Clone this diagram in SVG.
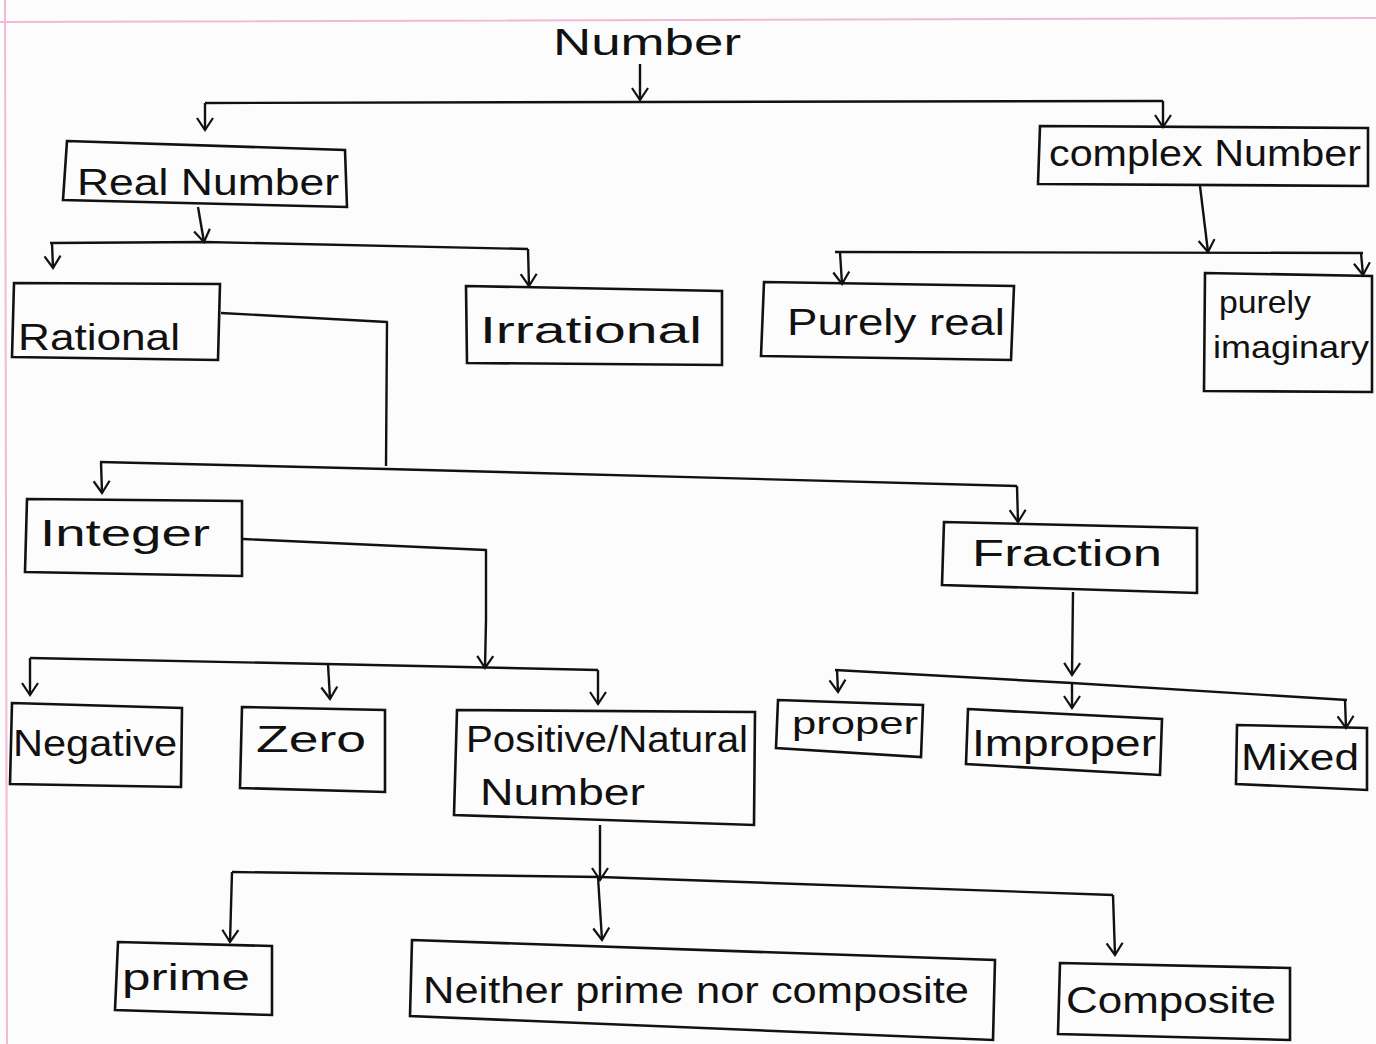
<svg xmlns="http://www.w3.org/2000/svg" width="1376" height="1044" viewBox="0 0 1376 1044">
<style>
.box{fill:none;stroke:#111;stroke-width:2.6}
.t{font-family:"Liberation Sans","DejaVu Sans",sans-serif;fill:#111;font-size:36px}
.s{font-size:32px}
.c{fill:none;stroke:#111;stroke-width:2.4;stroke-linejoin:round}
.a{fill:none;stroke:#111;stroke-width:2.4;marker-end:url(#ah)}
.paper{stroke:#f2b8d8;stroke-width:2;fill:none}
</style>
<defs>
<marker id="ah" viewBox="0 0 20 20" refX="18" refY="10" markerWidth="20" markerHeight="20" markerUnits="userSpaceOnUse" orient="auto">
<path d="M6,2 L18,10 L6,18" fill="none" stroke="#111" stroke-width="2.2"/>
</marker>
</defs>
<rect width="1376" height="1044" fill="#fdfcfc"/>
<path class="paper" d="M0,22 L1376,18 M5,0 L7,1044"/>

<g id="connectors">
<path class="a" d="M640,64 L640,100"/>
<path class="c" d="M205,103 L640,102 L1163,101"/>
<path class="a" d="M205,103 L205,130"/>
<path class="a" d="M1163,101 L1163,127"/>

<path class="a" d="M198,207 L204,242"/>
<path class="c" d="M50,243 L205,242 L528,249"/>
<path class="a" d="M52,243 L53,268"/>
<path class="a" d="M528,249 L529,286"/>

<path class="a" d="M1200,186 L1208,252"/>
<path class="c" d="M835,252 L1363,253"/>
<path class="a" d="M840,252 L842,284"/>
<path class="a" d="M1361,253 L1363,275"/>

<path class="c" d="M221,313 L387,322 L386,466"/>
<path class="c" d="M100,462 L387,469 L1017,486"/>
<path class="a" d="M101,462 L102,493"/>
<path class="a" d="M1017,486 L1018,522"/>

<path class="c" d="M243,539 L486,550 L486,620"/>
<path class="a" d="M486,620 L485,668"/>
<path class="c" d="M30,658 L326,664 L598,670"/>
<path class="a" d="M30,658 L30,695"/>
<path class="a" d="M328,664 L330,699"/>
<path class="a" d="M598,670 L598,704"/>

<path class="a" d="M1073,592 L1072,675"/>
<path class="c" d="M835,670 L1072,683 L1347,700"/>
<path class="a" d="M837,670 L838,692"/>
<path class="a" d="M1072,683 L1072,708"/>
<path class="a" d="M1345,700 L1346,728"/>

<path class="a" d="M600,825 L600,880"/>
<path class="c" d="M232,872 L600,877 L1113,895"/>
<path class="a" d="M232,872 L230,942"/>
<path class="a" d="M598,877 L602,940"/>
<path class="a" d="M1113,895 L1115,955"/>
</g>

<g id="number"><text class="t" x="553" y="55" textLength="188" lengthAdjust="spacingAndGlyphs">Number</text></g>

<g id="real-number">
<path class="box" d="M67,141 L345,150 L347,207 L63,200 Z"/>
<text class="t" x="77" y="195" textLength="262" lengthAdjust="spacingAndGlyphs">Real Number</text>
</g>

<g id="complex-number">
<path class="box" d="M1040,126 L1368,128 L1368,186 L1038,184 Z"/>
<text class="t" x="1049" y="166" textLength="312" lengthAdjust="spacingAndGlyphs">complex Number</text>
</g>

<g id="rational">
<path class="box" d="M14,283 L220,284 L218,360 L12,357 Z"/>
<text class="t" x="18" y="350" textLength="162" lengthAdjust="spacingAndGlyphs">Rational</text>
</g>

<g id="irrational">
<path class="box" d="M466,286 L722,291 L722,365 L467,363 Z"/>
<text class="t" x="480" y="343" textLength="222" lengthAdjust="spacingAndGlyphs">Irrational</text>
</g>

<g id="purely-real">
<path class="box" d="M764,282 L1014,286 L1011,360 L761,356 Z"/>
<text class="t" x="787" y="335" textLength="218" lengthAdjust="spacingAndGlyphs">Purely real</text>
</g>

<g id="purely-imaginary">
<path class="box" d="M1205,273 L1372,276 L1372,392 L1204,391 Z"/>
<text class="t s" x="1219" y="313" textLength="92" lengthAdjust="spacingAndGlyphs">purely</text>
<text class="t s" x="1213" y="358" textLength="156" lengthAdjust="spacingAndGlyphs">imaginary</text>
</g>

<g id="integer">
<path class="box" d="M27,499 L242,501 L242,576 L25,572 Z"/>
<text class="t" x="40" y="546" textLength="170" lengthAdjust="spacingAndGlyphs">Integer</text>
</g>

<g id="fraction">
<path class="box" d="M944,522 L1197,528 L1197,593 L942,585 Z"/>
<text class="t" x="972" y="566" textLength="190" lengthAdjust="spacingAndGlyphs">Fraction</text>
</g>

<g id="negative">
<path class="box" d="M12,703 L182,708 L181,787 L10,784 Z"/>
<text class="t" x="13" y="756" textLength="164" lengthAdjust="spacingAndGlyphs">Negative</text>
</g>

<g id="zero">
<path class="box" d="M242,707 L385,710 L385,792 L240,788 Z"/>
<text class="t" x="256" y="752" textLength="110" lengthAdjust="spacingAndGlyphs">Zero</text>
</g>

<g id="positive-natural">
<path class="box" d="M457,710 L755,712 L754,825 L454,815 Z"/>
<text class="t" x="466" y="752" textLength="282" lengthAdjust="spacingAndGlyphs">Positive/Natural</text>
<text class="t" x="480" y="805" textLength="165" lengthAdjust="spacingAndGlyphs">Number</text>
</g>

<g id="proper">
<path class="box" d="M778,700 L923,705 L921,757 L776,748 Z"/>
<text class="t s" x="792" y="734" textLength="126" lengthAdjust="spacingAndGlyphs">proper</text>
</g>

<g id="improper">
<path class="box" d="M968,709 L1162,719 L1160,775 L966,764 Z"/>
<text class="t" x="972" y="756" textLength="184" lengthAdjust="spacingAndGlyphs">Improper</text>
</g>

<g id="mixed">
<path class="box" d="M1237,725 L1367,728 L1367,790 L1236,784 Z"/>
<text class="t" x="1241" y="770" textLength="118" lengthAdjust="spacingAndGlyphs">Mixed</text>
</g>

<g id="prime">
<path class="box" d="M118,942 L272,946 L272,1015 L115,1010 Z"/>
<text class="t" x="122" y="990" textLength="128" lengthAdjust="spacingAndGlyphs">prime</text>
</g>

<g id="neither">
<path class="box" d="M412,940 L995,960 L993,1040 L410,1016 Z"/>
<text class="t" x="423" y="1003" textLength="546" lengthAdjust="spacingAndGlyphs">Neither prime nor composite</text>
</g>

<g id="composite">
<path class="box" d="M1060,963 L1290,968 L1290,1040 L1058,1034 Z"/>
<text class="t" x="1066" y="1013" textLength="210" lengthAdjust="spacingAndGlyphs">Composite</text>
</g>
</svg>
